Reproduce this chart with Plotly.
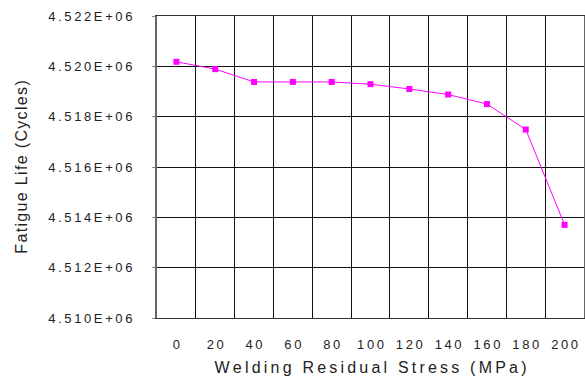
import plotly.graph_objects as go

stress = ["0", "20", "40", "60", "80", "100", "120", "140", "160", "180", "200"]
fatigue_life = [4520180, 4519890, 4519380, 4519380, 4519380, 4519290, 4519100, 4518880, 4518500, 4517490, 4513700]
y_ticks = [4510000, 4512000, 4514000, 4516000, 4518000, 4520000, 4522000]
y_tick_labels = ["4.510E+06", "4.512E+06", "4.514E+06", "4.516E+06", "4.518E+06", "4.520E+06", "4.522E+06"]

def spaced(s, sep="\u2009"):
    return sep.join(list(s))

fig = go.Figure()
fig.add_trace(go.Scatter(
    x=stress, y=fatigue_life, mode="lines+markers",
    line=dict(color="#ff00ff", width=1),
    marker=dict(symbol="square", size=6, color="#ff00ff"),
    showlegend=False,
))

font = "Liberation Sans, Arial, sans-serif"
fig.update_layout(
    width=585, height=376,
    margin=dict(l=157, r=1, t=16, b=58),
    paper_bgcolor="white", plot_bgcolor="white",
    font=dict(family=font, color="#222222", size=13),
    xaxis=dict(
        type="category", tickson="boundaries", automargin=False,
        range=[-0.5, len(stress) - 0.5],
        showgrid=True, gridcolor="#111111", gridwidth=1,
        showline=True, linecolor="#333333", linewidth=1, mirror=True,
        ticks="", ticklen=0, ticklabelstandoff=14,
        tickvals=stress, ticktext=[spaced(s) for s in stress],
        tickfont=dict(size=13, color="#222222"),
        title=dict(text=spaced("Welding Residual Stress (MPa)", "\u2009"), font=dict(size=16, color="#222222"), standoff=11),
    ),
    yaxis=dict(
        range=[4510000, 4522000], automargin=False,
        tickvals=y_ticks, ticktext=[spaced(t) for t in y_tick_labels],
        showgrid=True, gridcolor="#111111", gridwidth=1,
        showline=True, linecolor="#666666", linewidth=2, mirror=True,
        ticks="outside", ticklen=3, tickcolor="#888888", ticklabelstandoff=17,
        tickfont=dict(size=13, color="#222222"),
        zeroline=False,
        title=dict(text=spaced("Fatigue Life (Cycles)", "\u200a"), font=dict(size=16, color="#222222"), standoff=17),
    ),
)
fig.write_html("out.html", config={"displayModeBar": False})

with open("out.html", "r", encoding="utf-8") as f:
    html = f.read()
html = html.replace("<body>", '<body style="margin:0;padding:0">', 1)
with open("out.html", "w", encoding="utf-8") as f:
    f.write(html)
